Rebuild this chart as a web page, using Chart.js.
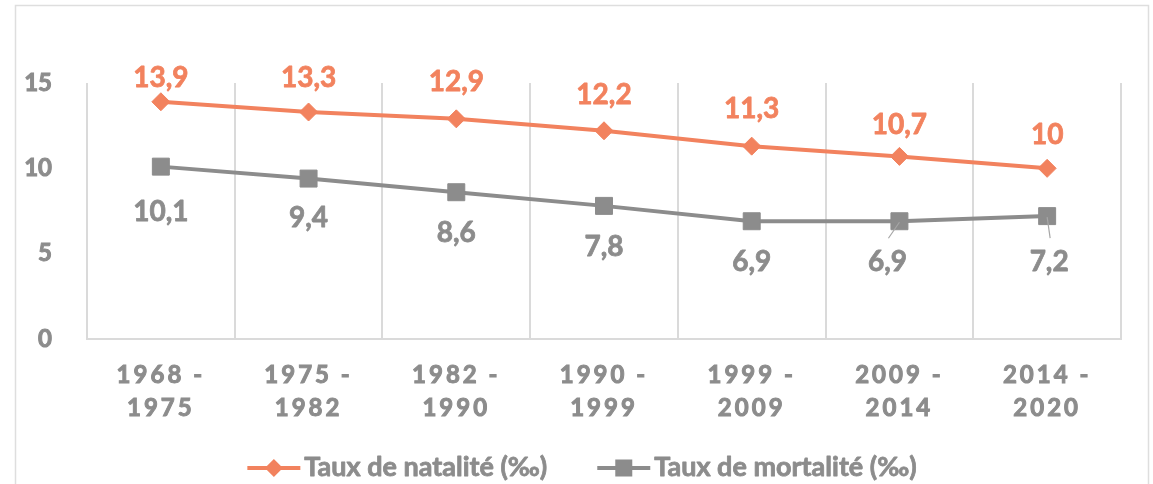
<!DOCTYPE html>
<html>
<head>
<meta charset="utf-8">
<script src="https://cdn.jsdelivr.net/npm/chart.js@4"></script>
<style>
  html, body { margin: 0; padding: 0; background: #ffffff; }
  #wrap { position: relative; width: 1153px; height: 484px; }
  canvas { display: block; }
</style>
</head>
<body>
<div id="wrap"><canvas id="c" width="1153" height="484"></canvas></div>
<script>
// ---- data ----
const categories = ['1968 - 1975', '1975 - 1982', '1982 - 1990', '1990 - 1999', '1999 - 2009', '2009 - 2014', '2014 - 2020'];
const natalite = [13.9, 13.3, 12.9, 12.2, 11.3, 10.7, 10];
const mortalite = [10.1, 9.4, 8.6, 7.8, 6.9, 6.9, 7.2];
const seriesNames = ['Taux de natalité (‰)', 'Taux de mortalité (‰)'];
const yTicks = [0, 5, 10, 15];

// ---- styles ----
const ORANGE = '#F2825E';
const GREY = '#8C8C8C';
const TEXT_GREY = '#8C8C8C';
const GRID = '#DADADA';
const FONT = 'Lato, "Open Sans", sans-serif';

// label offsets (px) relative to the point, per index
const natLabelDy = [-24, -34, -37, -36, -37, -31, -33];
const mortLabelDy = [45, 39, 41, 41, 41, 41, 46];
const mortLabelDx = [0, 0, 0, 0, 0, -12, 2];
const mortLeader = [false, false, false, false, false, true, true];

const fmt = v => String(v).replace('.', ',');

function boldText(ctx, txt, x, y, color) {
  ctx.fillStyle = color;
  ctx.strokeStyle = color;
  ctx.lineWidth = 0.8;
  ctx.lineJoin = 'round';
  ctx.fillText(txt, x, y);
  ctx.strokeText(txt, x, y);
}

const labelPlugin = {
  id: 'labelsAndFrame',
  afterLayout(chart) {
    const xs = chart.scales.x;
    if (xs && !xs._lsPatched) {
      const orig = xs.drawLabels.bind(xs);
      xs.drawLabels = function (area) {
        const c = this.ctx;
        c.save();
        c.letterSpacing = '3px';
        orig(area);
        c.restore();
      };
      xs._lsPatched = true;
    }
  },
  beforeDraw(chart) {
    const ctx = chart.ctx;
    ctx.save();
    ctx.fillStyle = '#ffffff';
    ctx.fillRect(0, 0, chart.width, chart.height);
    ctx.strokeStyle = '#DEDEDE';
    ctx.lineWidth = 1.5;
    ctx.strokeRect(15.5, 5.5, 1133, 520);
    ctx.restore();
  },
  afterDatasetsDraw(chart) {
    const ctx = chart.ctx;
    ctx.save();
    ctx.textAlign = 'center';
    ctx.textBaseline = 'middle';
    ctx.font = 'bold 28px ' + FONT;
    const m0 = chart.getDatasetMeta(0);
    m0.data.forEach((pt, i) => {
      boldText(ctx, fmt(natalite[i]), pt.x, pt.y + natLabelDy[i], ORANGE);
    });
    const m1 = chart.getDatasetMeta(1);
    m1.data.forEach((pt, i) => {
      const lx = pt.x + mortLabelDx[i];
      const ly = pt.y + mortLabelDy[i];
      if (mortLeader[i]) {
        ctx.strokeStyle = '#A6A6A6';
        ctx.lineWidth = 1.2;
        ctx.beginPath();
        ctx.moveTo(lx + 1, ly - 24);
        ctx.lineTo(pt.x, pt.y + 1);
        ctx.stroke();
      }
      boldText(ctx, fmt(mortalite[i]), lx, ly, TEXT_GREY);
    });
    ctx.restore();
  },
  afterDraw(chart) {
    const ctx = chart.ctx;
    ctx.save();
    ctx.font = 'bold 27px ' + FONT;
    ctx.textBaseline = 'middle';
    ctx.textAlign = 'left';
    const lineLen = 53, gapText = 4, gapItems = 50;
    const items = chart.data.datasets.map(ds => ({
      ds, w: lineLen + gapText + ctx.measureText(ds.label).width
    }));
    const total = items.reduce((s, it) => s + it.w, 0) + gapItems * (items.length - 1);
    let x = 582 - total / 2;
    const y = 468;
    items.forEach(it => {
      const ds = it.ds;
      ctx.strokeStyle = ds.borderColor;
      ctx.lineWidth = 4;
      ctx.beginPath();
      ctx.moveTo(x, y);
      ctx.lineTo(x + lineLen, y);
      ctx.stroke();
      ctx.fillStyle = ds.pointBackgroundColor;
      const cx = x + lineLen / 2;
      if (ds.pointStyle === 'rectRot') {
        const r = 9;
        ctx.beginPath();
        ctx.moveTo(cx, y - r); ctx.lineTo(cx + r, y); ctx.lineTo(cx, y + r); ctx.lineTo(cx - r, y);
        ctx.closePath(); ctx.fill();
      } else {
        const s = 8.5;
        ctx.fillRect(cx - s, y - s, 2 * s, 2 * s);
      }
      boldText(ctx, ds.label, x + lineLen + gapText, y - 1, TEXT_GREY);
      x += it.w + gapItems;
    });
    ctx.restore();
  }
};

function build() {
  new Chart(document.getElementById('c'), {
    type: 'line',
    data: {
      labels: categories,
      datasets: [
        {
          label: seriesNames[0],
          data: natalite,
          borderColor: ORANGE,
          backgroundColor: ORANGE,
          pointBackgroundColor: ORANGE,
          pointBorderColor: ORANGE,
          pointBorderWidth: 1,
          borderWidth: 4,
          pointStyle: 'rectRot',
          pointRadius: 9,
          tension: 0,
          fill: false
        },
        {
          label: seriesNames[1],
          data: mortalite,
          borderColor: GREY,
          backgroundColor: GREY,
          pointBackgroundColor: GREY,
          pointBorderColor: GREY,
          pointBorderWidth: 1,
          borderWidth: 4,
          pointStyle: 'rect',
          pointRadius: 12,
          tension: 0,
          fill: false
        }
      ]
    },
    options: {
      responsive: false,
      animation: false,
      devicePixelRatio: 1,
      layout: { padding: { left: 0, right: 32, top: 83, bottom: 0 } },
      plugins: {
        legend: { display: false },
        tooltip: { enabled: false },
        title: { display: false }
      },
      scales: {
        x: {
          type: 'category',
          offset: true,
          grid: { display: true, color: GRID, lineWidth: 2, offset: true, drawTicks: false },
          border: { display: true, color: GRID, width: 2 },
          ticks: {
            color: TEXT_GREY,
            textStrokeColor: TEXT_GREY,
            textStrokeWidth: 1,
            font: { family: FONT, size: 24, weight: 'bold', lineHeight: 33 / 24 },
            padding: 20,
            maxRotation: 0,
            autoSkip: false,
            callback: function (val, i) {
              const parts = categories[i].split(' - ');
              return [parts[0] + ' -', parts[1]];
            }
          },
          afterFit(scale) { scale.height = 145; }
        },
        y: {
          min: 0,
          max: 15,
          grid: { display: false },
          border: { display: false },
          afterBuildTicks(scale) { scale.ticks = yTicks.map(v => ({ value: v })); },
          ticks: {
            color: TEXT_GREY,
            textStrokeColor: TEXT_GREY,
            textStrokeWidth: 1,
            font: { family: FONT, size: 24, weight: 'bold' },
            padding: 27
          },
          afterFit(scale) { scale.width = 87; }
        }
      }
    },
    plugins: [labelPlugin]
  });
}

if (document.fonts && document.fonts.load) {
  Promise.all([
    document.fonts.load('bold 24px Lato'),
    document.fonts.load('bold 28px Lato')
  ]).then(build, build);
} else {
  build();
}
</script>
</body>
</html>
